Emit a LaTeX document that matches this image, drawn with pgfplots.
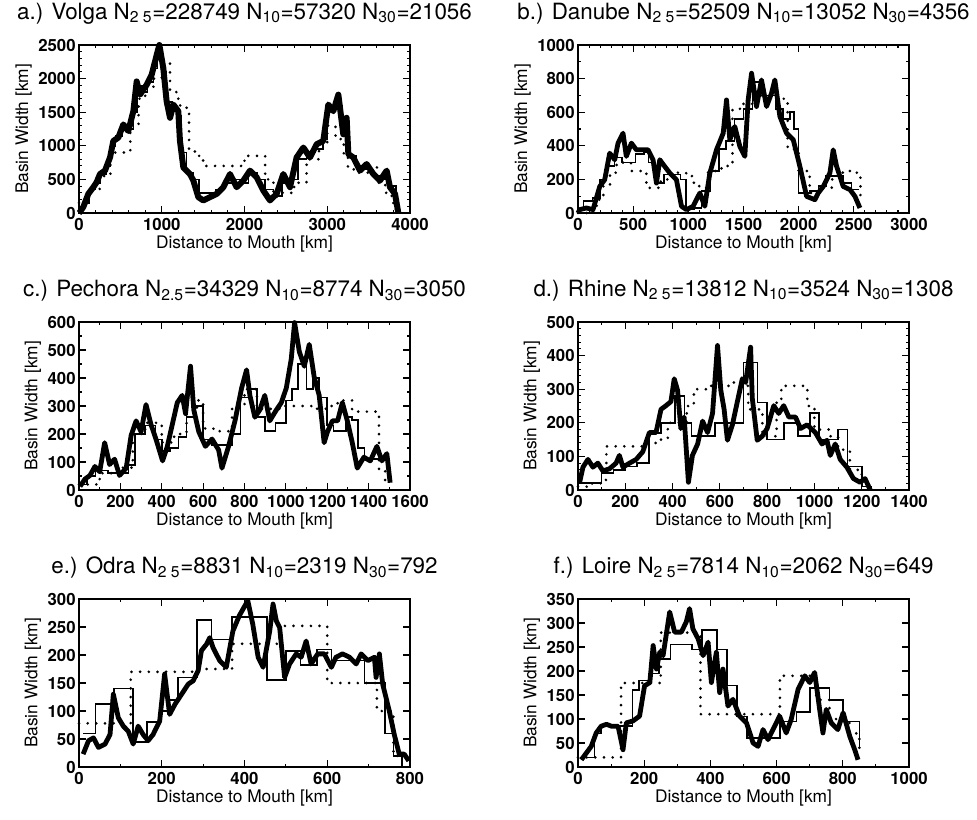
\documentclass[border=0pt]{standalone}
\usepackage{fontspec}
\setmainfont{TeX Gyre Heros}
\usepackage{pgfplots}
\pgfplotsset{compat=1.18}
\begin{document}
\begin{tikzpicture}
\pgfplotsset{
 panel/.style={
  scale only axis, width=248.25pt, height=126pt, anchor=south west,
  xmin=0, ymin=0,
  axis line style={line width=1.3pt},
  tick style={black, line width=0.8pt},
  major tick length=5pt, minor tick length=2.5pt,
  tick align=inside, xtick pos=both, ytick pos=both,
  xticklabel pos=bottom, yticklabel pos=left,
  /pgf/number format/assume math mode=true,
  /pgf/number format/1000 sep={},
  ticklabel style={font=\bfseries\fontsize{12.6}{13}\selectfont},
  xticklabel style={yshift=-0.5pt},
  yticklabel style={xshift=1pt},
  xlabel={Distance to Mouth [km]}, ylabel={Basin Width [km]},
  label style={font=\fontsize{13}{13}\selectfont},
  xlabel style={yshift=3pt},
  ylabel style={yshift=-2pt},
  title style={font=\fontsize{16.8}{17}\selectfont, at={(0.5,1)}, anchor=south, yshift=6pt},
  clip=false,
 },
 thickL/.style={black, line width=3.6pt, line join=round},
 thinL/.style={black, line width=1.2pt, const plot},
 dotL/.style={black, line width=2.2pt, line cap=round, dash pattern=on 0pt off 6.5pt, const plot},
}
\path[use as bounding box] (0,0) rectangle (732.75pt,614.25pt);

% ---------------- a.) Volga
\begin{axis}[panel, at={(59.25pt,454.5pt)}, xmax=4000, ymax=2500,
  xtick={0,1000,2000,3000,4000}, ytick={0,500,1000,1500,2000,2500}, minor tick num=4,
  title={a.) Volga N\textsubscript{2 5}=228749 N\textsubscript{10}=57320 N\textsubscript{30}=21056}]
\addplot[dotL] coordinates {(0,150)(120,350)(250,550)(380,900)(500,900)(620,1300)(720,1700)(800,1850)(900,2000)(1000,2250)(1100,1800)(1200,1600)(1300,1500)(1330,950)(1400,850)(1500,700)(1700,700)(2000,850)(2200,850)(2250,500)(2350,250)(2450,300)(2600,450)(2750,800)(2900,1050)(3000,1300)(3100,1100)(3200,850)(3250,650)(3350,600)(3500,700)(3600,450)(3700,300)(3780,150)(3830,0)};
\addplot[thinL] coordinates {(0,50)(60,150)(120,350)(200,450)(260,580)(330,700)(380,1000)(440,1150)(520,1300)(600,1250)(660,1500)(700,1900)(760,1800)(830,1950)(900,2150)(950,2400)(1000,2100)(1050,1650)(1130,1550)(1200,1450)(1230,900)(1300,600)(1380,500)(1450,300)(1550,300)(1650,350)(1750,450)(1850,500)(1950,450)(2050,600)(2150,500)(2250,350)(2350,250)(2450,450)(2550,500)(2650,800)(2750,900)(2850,950)(2950,1100)(3000,1550)(3100,1600)(3180,1200)(3260,850)(3350,700)(3450,650)(3550,550)(3650,500)(3750,400)(3830,150)(3860,0)};
\addplot[thickL, line width=4.5pt] coordinates {(0,0)(12,15)(52,90)(113,285)(173,384)(213,458)(254,580)(314,630)(375,827)(415,1072)(475,1122)(536,1318)(596,1220)(657,1515)(697,1958)(737,1761)(818,1909)(878,2057)(939,2352)(971,2500)(1019,2155)(1059,1663)(1100,1417)(1140,1614)(1200,1515)(1220,1072)(1261,679)(1341,580)(1382,482)(1442,236)(1502,187)(1583,236)(1664,285)(1744,384)(1825,580)(1905,384)(1986,482)(2066,630)(2147,531)(2227,335)(2308,187)(2389,285)(2469,580)(2550,384)(2630,827)(2711,974)(2791,827)(2872,1023)(2952,1072)(3013,1614)(3073,1515)(3134,1761)(3194,1171)(3234,1417)(3255,876)(3315,827)(3396,630)(3476,728)(3557,580)(3637,482)(3718,630)(3758,384)(3819,285)(3859,0)};
\end{axis}

% ---------------- b.) Danube
\begin{axis}[panel, at={(433.5pt,454.5pt)}, xmax=3000, ymax=1000,
  xtick={0,500,1000,1500,2000,2500,3000}, ytick={0,200,400,600,800,1000},
  minor x tick num=4, minor y tick num=1,
  title={b.) Danube N\textsubscript{2 5}=52509 N\textsubscript{10}=13052 N\textsubscript{30}=4356}]
\addplot[dotL] coordinates {(0,0)(100,20)(170,80)(230,160)(290,240)(350,300)(480,250)(580,250)(620,150)(700,150)(750,200)(900,240)(980,220)(1050,160)(1130,150)(1180,250)(1300,280)(1400,620)(1500,650)(1600,700)(1700,700)(1800,680)(1900,380)(2000,250)(2100,120)(2200,150)(2300,200)(2400,250)(2500,240)(2560,100)};
\addplot[thinL] coordinates {(0,20)(50,70)(130,90)(200,200)(260,280)(330,330)(400,300)(460,300)(520,350)(600,360)(640,300)(700,180)(780,230)(860,230)(930,200)(980,20)(1050,30)(1120,130)(1200,250)(1280,380)(1340,430)(1420,560)(1500,620)(1580,780)(1650,700)(1720,700)(1790,620)(1860,560)(1920,600)(1960,500)(2000,120)(2100,130)(2180,160)(2250,220)(2320,220)(2400,180)(2480,140)(2550,140)};
\addplot[thickL] coordinates {(0,0)(15,20)(76,30)(136,20)(197,158)(242,198)(287,356)(333,317)(363,416)(408,475)(438,337)(484,416)(529,376)(590,376)(635,376)(680,317)(711,178)(741,317)(786,277)(832,238)(892,198)(938,40)(983,20)(1043,40)(1104,119)(1149,40)(1195,238)(1255,376)(1316,475)(1346,673)(1376,436)(1421,515)(1467,396)(1512,337)(1542,673)(1573,832)(1618,634)(1663,792)(1709,634)(1754,713)(1784,792)(1830,574)(1890,475)(1951,436)(2011,277)(2072,99)(2147,79)(2177,119)(2223,158)(2283,238)(2313,376)(2344,277)(2404,158)(2465,139)(2510,99)(2555,30)};
\end{axis}

% ---------------- c.) Pechora
\begin{axis}[panel, at={(59.25pt,246.75pt)}, xmax=1600, ymax=600,
  xtick={0,200,...,1600}, ytick={0,100,...,600}, minor tick num=1,
  title={c.) Pechora N\textsubscript{2.5}=34329 N\textsubscript{10}=8774 N\textsubscript{30}=3050}]
\addplot[dotL] coordinates {(0,20)(100,60)(200,80)(260,200)(320,240)(400,170)(460,200)(520,270)(570,320)(600,220)(650,210)(720,210)(740,300)(800,360)(860,290)(920,290)(980,300)(1040,300)(1150,290)(1200,300)(1250,320)(1320,280)(1440,280)(1450,70)(1480,30)};
\addplot[thinL] coordinates {(0,20)(40,50)(80,70)(140,60)(200,60)(240,90)(270,200)(320,230)(370,180)(400,140)(440,150)(480,190)(520,260)(560,300)(600,180)(640,160)(700,160)(740,200)(780,330)(820,360)(860,260)(900,210)(950,240)(1000,320)(1030,360)(1060,450)(1100,360)(1130,400)(1160,330)(1200,230)(1230,210)(1290,260)(1320,250)(1350,150)(1380,110)(1420,110)(1460,110)(1500,30)};
\addplot[thickL] coordinates {(5,13)(29,39)(53,52)(77,84)(100,65)(124,169)(148,91)(172,110)(196,52)(228,78)(252,195)(276,247)(300,208)(324,305)(348,234)(372,182)(404,104)(427,156)(451,234)(475,312)(499,338)(515,273)(539,442)(555,286)(579,208)(611,156)(643,182)(675,143)(691,78)(723,156)(754,247)(786,364)(810,429)(826,338)(850,260)(874,286)(898,338)(922,247)(954,286)(978,312)(1002,364)(1026,468)(1042,598)(1065,494)(1089,442)(1113,520)(1137,403)(1161,338)(1185,169)(1201,208)(1225,247)(1250,247)(1273,312)(1297,247)(1321,169)(1345,78)(1377,117)(1408,104)(1440,156)(1464,104)(1488,130)(1504,26)};
\end{axis}

% ---------------- d.) Rhine
\begin{axis}[panel, at={(433.5pt,246.75pt)}, xmax=1400, ymax=500,
  xtick={0,200,...,1400}, ytick={0,100,...,500}, minor x tick num=1, minor y tick num=4,
  title={d.) Rhine N\textsubscript{2 5}=13812 N\textsubscript{10}=3524 N\textsubscript{30}=1308}]
\addplot[dotL] coordinates {(0,10)(60,20)(100,30)(120,130)(200,130)(280,140)(330,150)(380,200)(460,250)(490,300)(560,310)(640,320)(700,310)(720,240)(780,160)(840,270)(860,310)(960,310)(970,250)(1000,180)(1060,160)(1100,120)(1150,60)(1200,20)(1230,0)};
\addplot[thinL] coordinates {(0,20)(50,20)(100,50)(150,60)(200,70)(250,80)(300,170)(350,200)(410,280)(450,200)(480,160)(550,160)(580,200)(640,200)(700,380)(760,260)(800,150)(870,200)(930,160)(980,230)(1020,150)(1100,180)(1140,70)(1200,10)(1240,0)};
\addplot[thickL] coordinates {(7,23)(21,68)(42,91)(63,68)(84,80)(105,57)(133,63)(161,80)(175,103)(190,68)(218,80)(246,91)(274,114)(302,171)(330,171)(351,240)(372,251)(393,263)(407,331)(421,297)(435,183)(449,217)(467,23)(484,103)(506,137)(527,205)(548,171)(569,228)(590,430)(604,297)(618,240)(632,148)(653,194)(674,263)(695,331)(709,320)(730,425)(737,274)(758,148)(779,160)(800,183)(828,251)(849,228)(870,251)(892,217)(920,217)(941,183)(969,194)(1004,171)(1032,137)(1053,148)(1067,103)(1088,137)(1109,91)(1137,68)(1165,34)(1193,23)(1214,34)(1236,0)};
\end{axis}

% ---------------- e.) Odra
\begin{axis}[panel, at={(59.25pt,39pt)}, xmax=800, ymax=300,
  xtick={0,200,...,800}, ytick={0,50,...,300}, minor x tick num=1, minor y tick num=0,
  title={e.) Odra N\textsubscript{2 5}=8831 N\textsubscript{10}=2319 N\textsubscript{30}=792}]
\addplot[dotL] coordinates {(0,78)(125,170)(290,175)(370,220)(485,252)(600,150)(720,100)(760,20)(790,10)};
\addplot[thinL] coordinates {(10,60)(40,112)(85,140)(130,45)(165,80)(195,100)(215,120)(240,160)(285,263)(320,228)(370,268)(455,155)(500,207)(535,182)(575,210)(610,190)(690,150)(740,60)(760,20)(780,0)(795,0)};
\addplot[thickL] coordinates {(10,23)(23,47)(35,52)(47,35)(63,41)(75,58)(83,130)(95,88)(107,73)(119,64)(131,41)(143,73)(155,58)(167,47)(179,58)(195,82)(207,166)(219,94)(232,112)(248,130)(264,148)(276,154)(288,172)(296,208)(308,219)(316,231)(324,213)(340,190)(356,178)(372,243)(388,271)(408,297)(420,255)(433,196)(445,178)(461,243)(469,291)(477,261)(485,249)(497,160)(509,184)(525,202)(537,196)(549,225)(561,184)(577,202)(593,202)(610,178)(621,196)(637,202)(654,196)(670,184)(682,202)(698,190)(714,196)(718,160)(726,202)(734,148)(750,100)(762,58)(774,23)(786,23)(797,11)};
\end{axis}

% ---------------- f.) Loire
\begin{axis}[panel, at={(433.5pt,39pt)}, xmax=1000, ymax=350,
  xtick={0,200,...,1000}, ytick={0,50,...,350}, minor x tick num=1, minor y tick num=0,
  title={f.) Loire N\textsubscript{2 5}=7814 N\textsubscript{10}=2062 N\textsubscript{30}=649}]
\addplot[dotL] coordinates {(0,20)(130,175)(250,280)(370,110)(610,190)(720,140)(760,100)(820,70)(850,25)};
\addplot[thinL] coordinates {(10,20)(50,70)(70,85)(165,160)(185,180)(215,195)(245,225)(280,255)(345,245)(375,285)(420,245)(450,170)(480,105)(510,60)(610,95)(660,115)(700,165)(760,140)(800,95)(850,40)};
\addplot[thickL] coordinates {(10,15)(25,29)(40,43)(55,71)(70,85)(86,89)(101,85)(121,85)(136,36)(146,92)(166,96)(186,106)(201,169)(217,176)(227,253)(237,204)(247,239)(257,232)(277,323)(292,281)(312,281)(327,302)(337,330)(347,288)(363,267)(378,232)(393,260)(403,176)(418,239)(428,155)(438,204)(453,127)(468,141)(488,106)(509,92)(529,50)(544,43)(559,78)(574,57)(589,78)(609,106)(629,71)(644,99)(665,162)(685,190)(700,176)(715,197)(730,120)(740,71)(750,120)(765,92)(785,78)(801,113)(821,64)(836,36)(846,15)};
\end{axis}
\end{tikzpicture}
\end{document}
